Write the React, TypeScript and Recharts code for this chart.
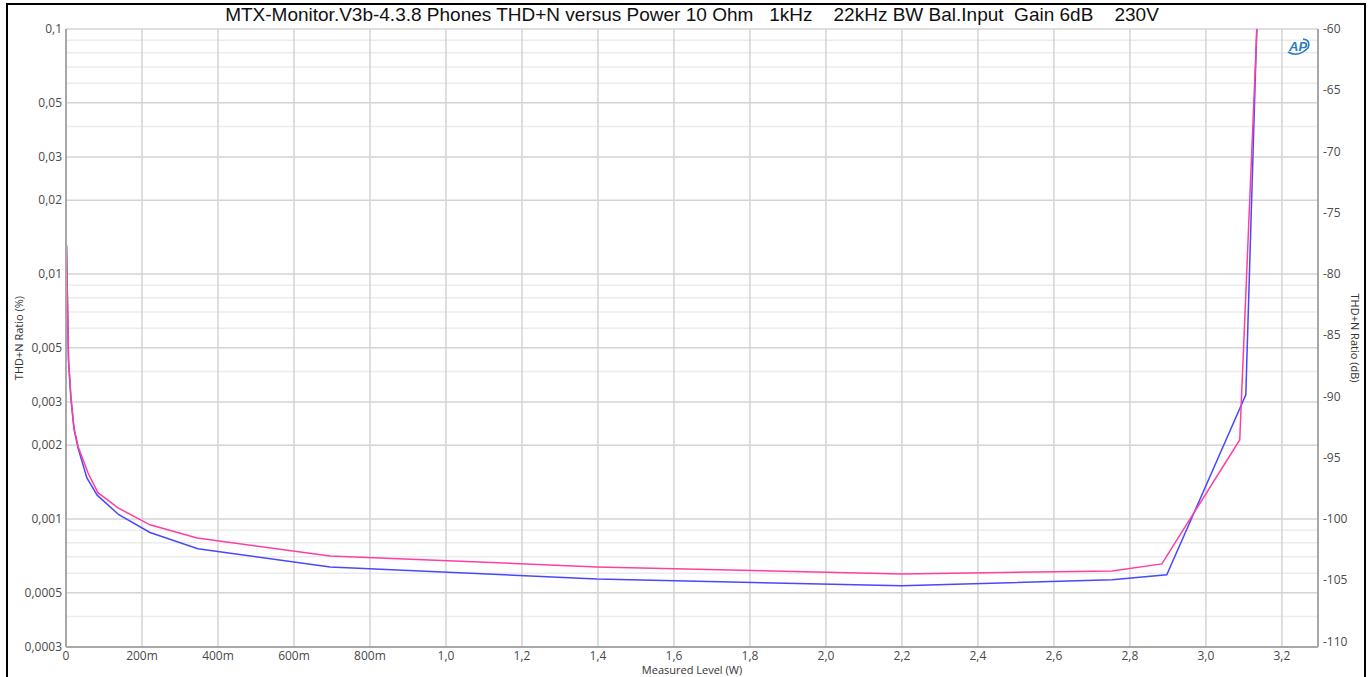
import React from "react";
import { LineChart, Line, XAxis, YAxis, CartesianGrid } from "recharts";

const title =
  "MTX-Monitor.V3b-4.3.8 Phones THD+N versus Power 10 Ohm   1kHz    22kHz BW Bal.Input  Gain 6dB    230V";

// measured level (W) and THD+N (%) per channel
const powerBlue = [0.0013, 0.004, 0.0066, 0.013, 0.021, 0.032, 0.055, 0.082, 0.139, 0.221, 0.347, 0.695, 1.397, 2.2, 2.753, 2.897, 3.105, 3.143];
const thdBlue = [0.0131, 0.0075, 0.0044, 0.0031, 0.00233, 0.00194, 0.00147, 0.00125, 0.00104, 0.00088, 0.000755, 0.000637, 0.000569, 0.000533, 0.000564, 0.000591, 0.00321, 0.3];

const powerPink = [0.0013, 0.004, 0.0066, 0.013, 0.021, 0.032, 0.058, 0.084, 0.137, 0.221, 0.345, 0.695, 1.397, 2.2, 2.753, 2.884, 3.089, 3.147];
const thdPink = [0.0131, 0.0075, 0.0045, 0.00313, 0.00236, 0.00197, 0.00154, 0.00128, 0.00111, 0.000946, 0.000836, 0.000706, 0.000637, 0.000596, 0.000613, 0.000655, 0.0021, 0.3];

const xTicks = [0, 0.2, 0.4, 0.6, 0.8, 1.0, 1.2, 1.4, 1.6, 1.8, 2.0, 2.2, 2.4, 2.6, 2.8, 3.0, 3.2];
const pctTicks = [0.1, 0.05, 0.03, 0.02, 0.01, 0.005, 0.003, 0.002, 0.001, 0.0005, 0.0003];
const pctMinor = [0.09, 0.08, 0.07, 0.06, 0.04, 0.009, 0.008, 0.007, 0.006, 0.004, 0.0009, 0.0008, 0.0007, 0.0006, 0.0004];
const dbTicks = [-60, -65, -70, -75, -80, -85, -90, -95, -100, -105, -110];

const blueData = powerBlue.map((x, i) => ({ x, y: thdBlue[i] }));
const pinkData = powerPink.map((x, i) => ({ x, y: thdPink[i] }));

const xMax = 3.295;
const pctMin = 0.0003;
const pctMax = 0.1;
const dbMin = 20 * Math.log10(pctMin / 100);

const tickFont = { fontFamily: "Open Sans", fontSize: 12, fill: "#4a4a4a" };
const axisColor = "#a8a8a8";

const fmtX = (v: number) => {
  if (v === 0) return "0";
  if (v < 0.99) return `${Math.round(v * 1000)}m`;
  return v.toFixed(1).replace(".", ",");
};
const fmtPct = (v: number) => String(v).replace(".", ",");

export default function App() {
  return (
    <div style={{ position: "absolute", left: 0, top: 0, width: 1372, height: 677, background: "#fff" }}>
      <div
        style={{
          position: "absolute",
          left: 6,
          top: 3,
          width: 1356,
          height: 680,
          border: "2px solid #000",
        }}
      />
      <LineChart width={1372} height={677} margin={{ top: 29, right: 0, bottom: 0, left: 0 }}>
        <CartesianGrid
          yAxisId="pct"
          horizontalValues={pctMinor}
          vertical={false}
          stroke="#ececec"
          strokeWidth={1.5}
        />
        <CartesianGrid
          yAxisId="pct"
          horizontalValues={pctTicks}
          verticalValues={xTicks}
          stroke="#d4d4d4"
          strokeWidth={1.5}
        />
        <XAxis
          type="number"
          dataKey="x"
          domain={[0, xMax]}
          ticks={xTicks}
          tickFormatter={fmtX}
          allowDataOverflow
          height={30}
          tickLine={false}
          tickSize={2}
          tickMargin={2}
          tick={tickFont}
          axisLine={{ stroke: axisColor, strokeWidth: 2 }}
        />
        <XAxis
          xAxisId="top"
          orientation="top"
          type="number"
          domain={[0, xMax]}
          height={0}
          tick={false}
          tickLine={false}
          axisLine={{ stroke: axisColor, strokeWidth: 2 }}
        />
        <YAxis
          yAxisId="pct"
          scale="log"
          type="number"
          domain={[pctMin, pctMax]}
          ticks={pctTicks}
          tickFormatter={fmtPct}
          allowDataOverflow
          width={66}
          tickLine={false}
          tickSize={2}
          tickMargin={2}
          tick={tickFont}
          interval={0}
          axisLine={{ stroke: axisColor, strokeWidth: 2 }}
        />
        <YAxis
          yAxisId="db"
          orientation="right"
          type="number"
          domain={[dbMin, -60]}
          ticks={dbTicks}
          allowDataOverflow
          width={54}
          tickLine={false}
          tickSize={3}
          tickMargin={2}
          tick={tickFont}
          interval={0}
          axisLine={{ stroke: axisColor, strokeWidth: 2 }}
        />
        <Line
          yAxisId="pct"
          data={blueData}
          dataKey="y"
          type="linear"
          stroke="#4848ff"
          strokeWidth={1.5}
          dot={false}
          isAnimationActive={false}
        />
        <Line
          yAxisId="pct"
          data={pinkData}
          dataKey="y"
          type="linear"
          stroke="#ff3fa0"
          strokeWidth={1.5}
          dot={false}
          isAnimationActive={false}
        />
      </LineChart>
      <div
        style={{
          position: "absolute",
          left: 66,
          width: 1252,
          top: 4,
          textAlign: "center",
          whiteSpace: "pre",
          fontFamily: "Liberation Sans",
          fontSize: 19,
          color: "#111",
        }}
      >
        {title}
      </div>
      <div
        style={{
          position: "absolute",
          left: 18,
          top: 338,
          transform: "translate(-50%, -50%) rotate(-90deg)",
          whiteSpace: "nowrap",
          fontFamily: "Open Sans",
          fontSize: 11,
          color: "#333",
        }}
      >
        THD+N Ratio (%)
      </div>
      <div
        style={{
          position: "absolute",
          left: 1355,
          top: 338,
          transform: "translate(-50%, -50%) rotate(90deg)",
          whiteSpace: "nowrap",
          fontFamily: "Open Sans",
          fontSize: 11,
          color: "#333",
        }}
      >
        THD+N Ratio (dB)
      </div>
      <div
        style={{
          position: "absolute",
          left: 692,
          top: 670,
          transform: "translate(-50%, -50%)",
          whiteSpace: "nowrap",
          fontFamily: "Open Sans",
          fontSize: 11,
          lineHeight: "12px",
          color: "#333",
        }}
      >
        Measured Level (W)
      </div>
      <svg style={{ position: "absolute", left: 1284, top: 36 }} width={28} height={20}>
        <path d="M4 16 Q14 22 24 12 Q27 4 19 3" fill="none" stroke="#2e7cc0" strokeWidth={1.6} />
        <text x={5} y={15} fontFamily="Liberation Sans" fontStyle="italic" fontWeight="bold" fontSize={13} fill="#2e7cc0">
          AP
        </text>
      </svg>
    </div>
  );
}
